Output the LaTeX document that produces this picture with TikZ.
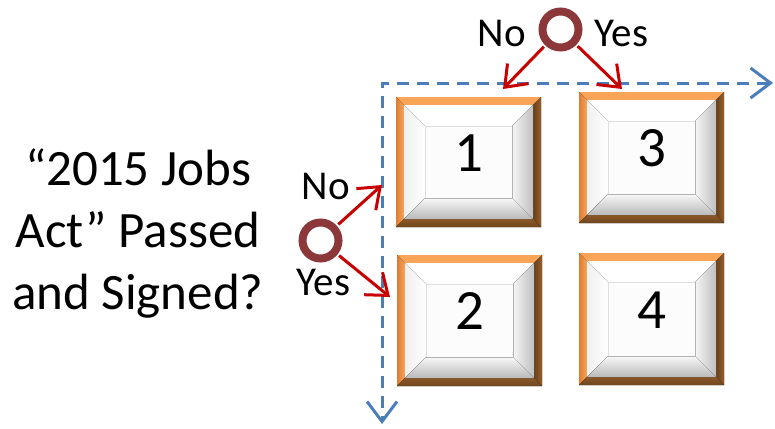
\documentclass[tikz,border=0pt]{standalone}
\usepackage{fontspec}
\setmainfont{Carlito}
\usetikzlibrary{arrows.meta}
\definecolor{axisblue}{RGB}{74,126,187}
\definecolor{arrred}{RGB}{200,0,0}
\definecolor{ringcol}{RGB}{140,56,58}
\definecolor{bandtop}{RGB}{250,164,88}
\definecolor{bandleftO}{RGB}{222,124,48}
\definecolor{bandleftI}{RGB}{245,166,96}
\definecolor{bandrightI}{RGB}{104,64,26}
\definecolor{bandrightO}{RGB}{150,94,44}
\definecolor{bandbotI}{RGB}{140,88,40}
\definecolor{bandbotO}{RGB}{112,70,30}
\definecolor{facecol}{RGB}{252,252,252}
\tikzset{
  numtext/.style={inner sep=0pt, font=\fontsize{57}{60}\selectfont},
  lbl/.style={inner sep=0pt, anchor=base, font=\fontsize{41}{44}\selectfont},
  maintext/.style={inner sep=0pt, align=center, font=\fontsize{51}{62}\selectfont},
  ring/.style={circle, draw=ringcol, line width=8pt, minimum size=36pt, inner sep=0pt},
  redarrow/.style={draw=arrred, line width=3pt, shorten <=2pt,
    -{Straight Barb[length=19pt, width=29pt, line width=3pt]}},
  axisline/.style={draw=axisblue, line width=3pt, dash pattern=on 12pt off 8pt,
    {Straight Barb[length=20pt, width=30pt, line width=3pt]}-{Straight Barb[length=20pt, width=30pt, line width=3pt]}}
}
\newcommand\bevbox[6]{%
\pgfmathsetmacro\xA{#2}\pgfmathsetmacro\yA{#3}\pgfmathsetmacro\xB{#4}\pgfmathsetmacro\yB{#5}%
\pgfmathsetmacro\xa{#2+8}\pgfmathsetmacro\ya{#3+8}\pgfmathsetmacro\xb{#4-8}\pgfmathsetmacro\yb{#5-8}%
\pgfmathsetmacro\xp{#2+29}\pgfmathsetmacro\yp{#3+29}\pgfmathsetmacro\xq{#4-29}\pgfmathsetmacro\yq{#5-29}%
\fill[bandtop] (\xA,\yA) -- (\xB,\yA) -- (\xb,\ya) -- (\xa,\ya) -- cycle;
\fill[left color=bandleftO, right color=bandleftI] (\xA,\yA) -- (\xa,\ya) -- (\xa,\yb) -- (\xA,\yB) -- cycle;
\fill[left color=bandrightI, right color=bandrightO] (\xB,\yA) -- (\xB,\yB) -- (\xb,\yb) -- (\xb,\ya) -- cycle;
\fill[top color=bandbotI, bottom color=bandbotO] (\xA,\yB) -- (\xB,\yB) -- (\xb,\yb) -- (\xa,\yb) -- cycle;
\fill[white] (\xa,\ya) -- (\xb,\ya) -- (\xq,\yp) -- (\xp,\yp) -- cycle;
\fill[left color=gray!12, right color=white] (\xa,\ya) -- (\xp,\yp) -- (\xp,\yq) -- (\xa,\yb) -- cycle;
\fill[left color=gray!8, right color=gray!50] (\xb,\ya) -- (\xb,\yb) -- (\xq,\yq) -- (\xq,\yp) -- cycle;
\fill[top color=gray!5, bottom color=gray!55] (\xa,\yb) -- (\xb,\yb) -- (\xq,\yq) -- (\xp,\yq) -- cycle;
\fill[facecol] (\xp,\yp) rectangle (\xq,\yq);
\draw[gray!25, line width=1pt] (\xp,\yq) -- (\xp,\yp) -- (\xq,\yp);
\draw[gray!60, line width=1pt] (\xq,\yp) -- (\xq,\yq) -- (\xp,\yq);
\node[numtext] (#1) at ({(#2+#4)/2},{(#3+#5)/2-9}) {#6};
}
\begin{document}
\begin{tikzpicture}[x=1pt,y=-1pt]
\useasboundingbox (0,0) rectangle (775,428);
% axes
\coordinate (origin) at (382,83);
\coordinate (xend) at (773,83);
\coordinate (yend) at (382,424);
\draw[axisline] (xend) -- (origin) -- (yend);
% boxes
\bevbox{box1}{396}{97}{541}{227}{1}
\bevbox{box3}{579}{92}{724}{223}{3}
\bevbox{box2}{397}{255}{542}{386}{2}
\bevbox{box4}{579}{253}{724}{385}{4}
% question text
\node[maintext, anchor=north] (question) at (138,149) {“2015 Jobs\\Act” Passed\\and Signed?};
% decision circles
\node[ring] (ctop) at (560.5,29.5) {};
\node[ring] (cleft) at (320.5,240.5) {};
% labels
\node[lbl] (ltopno) at (502,46) {No};
\node[lbl] (ltopyes) at (621.5,47) {Yes};
\node[lbl] (lleftno) at (326,199) {No};
\node[lbl] (lleftyes) at (323.5,295) {Yes};
% arrow tips
\coordinate (tno) at (503,89);
\coordinate (tyes) at (622,89);
\coordinate (lno) at (382,185);
\coordinate (lyes) at (390,297);
\draw[redarrow] (ctop) -- (tno);
\draw[redarrow] (ctop) -- (tyes);
\draw[redarrow] (cleft) -- (lno);
\draw[redarrow] (cleft) -- (lyes);
\end{tikzpicture}
\end{document}
